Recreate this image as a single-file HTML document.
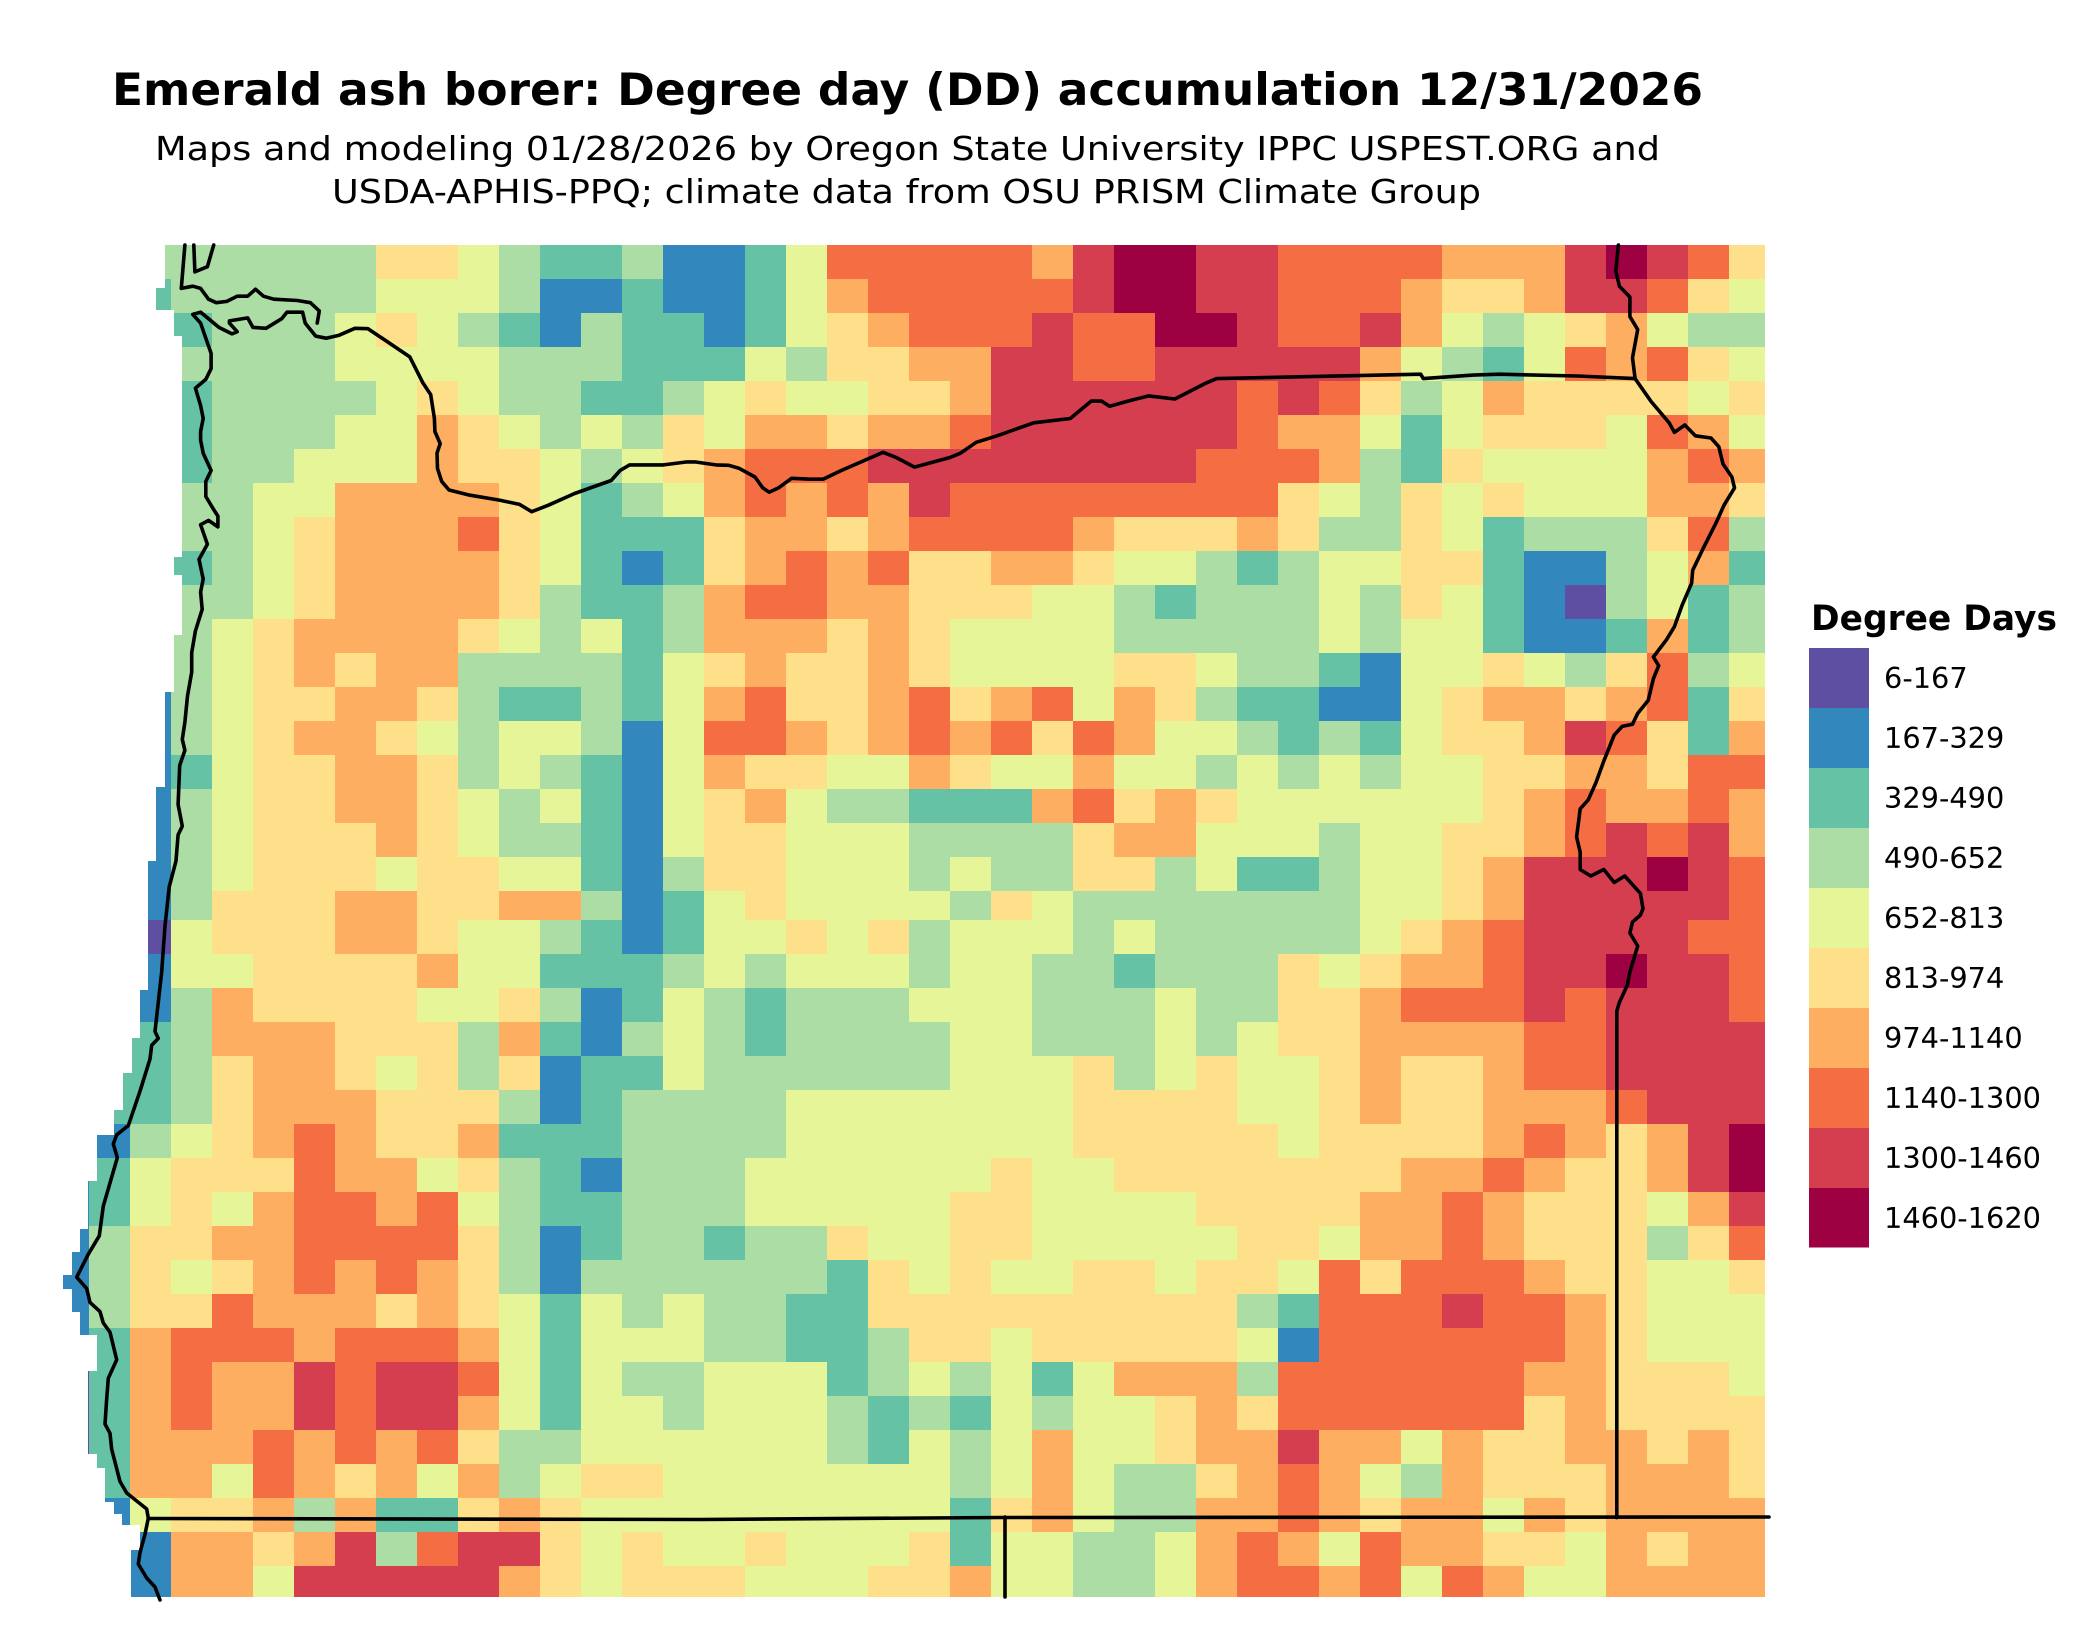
<!DOCTYPE html>
<html><head><meta charset="utf-8">
<style>
html,body{margin:0;padding:0;background:#fff;}
svg{display:block;}
text{font-family:"DejaVu Sans","Liberation Sans",sans-serif;fill:#000;}
</style></head>
<body>
<svg id="s" width="2100" height="1645" viewBox="0 0 2100 1645" xmlns="http://www.w3.org/2000/svg">
<defs><clipPath id="mc"><rect x="48" y="245" width="1717" height="1352"/></clipPath></defs>
<rect x="0" y="0" width="2100" height="1645" fill="#fff"/>
<g clip-path="url(#mc)" shape-rendering="crispEdges">
<rect x="130" y="245" width="1640" height="1360" fill="#e6f598"/>
<g id="grid"></g>
</g>
<path fill="#fff" d="M0,245 L165,245 L165,288 L156,288 L156,310 L174,310 L174,336 L182,336 L182,557 L174,557 L174,575 L182,575 L182,635 L174,635 L174,692 L165,692 L165,787 L156,787 L156,861 L148,861 L148,990 L140,990 L140,1038 L132,1038 L132,1073 L123,1073 L123,1110 L114,1110 L114,1135 L97,1135 L97,1181 L88,1181 L88,1229 L80,1229 L80,1252 L72,1252 L72,1275 L63,1275 L63,1289 L72,1289 L72,1312 L80,1312 L80,1335 L97,1335 L97,1371 L88,1371 L88,1454 L97,1454 L97,1468 L105,1468 L105,1502 L114,1502 L114,1514 L122,1514 L122,1525 L140,1525 L140,1550 L131,1550 L131,1645 L0,1645 Z"/>
<g fill="none" stroke="#000" stroke-width="3.6" stroke-linejoin="round" stroke-linecap="round">
<path d="M160,1600 L155,1587 L146.7,1578 L138.3,1564 L140,1552.6 L145,1534.3 L148.3,1518.2 L146.7,1509 L126.7,1493 L120,1481.5 L111.7,1449.3 L110,1433.3 L105,1424 L106.7,1398.8 L108.3,1378.2 L116.7,1359.8 L110,1332.2 L103.3,1323 L100,1311.6 L90,1302.4 L86.7,1288.6 L76.7,1277.2 L88.3,1254.2 L99.3,1235.8 L103.3,1206 L110,1183 L117.3,1157.8 L113.3,1144 L116.7,1134.8 L128.3,1125.6 L140,1091.2 L150,1059 L151.7,1045.3 L158.3,1038.4 L155,1031.5 L161.7,971.8 L165,926 L169.2,886.9 L176,860.9 L178.1,834.8 L182.3,826.2 L178.1,804.5 L179.7,765.4 L184.9,750.3 L182.3,739.4 L184.9,722.1 L187.5,696 L191.7,672.2 L191.7,652.7 L195.4,631 L202.2,609.3 L200.6,592 L203.2,579 L199,559.4 L207.4,544.3 L200.6,524.7 L208.5,520.4 L217.9,526.9 L217.9,516.1 L213.7,509.6 L205.8,496.5 L205.8,481.4 L211.1,470.5 L203.2,453.2 L200.6,440.2 L200.6,431.5 L203.2,418.5 L200.6,405.5 L195.4,388.1 L205.8,379.4 L211.1,368.6 L211.1,353.4 L205.8,338.2 L200.6,323.1 L192.8,314.4 L200.6,312.2 L208.5,318.7 L218.9,327.4 L232,333.9 L237.2,331.7 L229.4,323.1 L229.4,320.9 L247.7,317.9 L252.9,327.4 L266,328.3 L281.7,318.7 L286.9,312.2 L302.6,312.2 L305.2,323.1 L315.7,336.1 L326.1,338.2 L339.2,335.2 L354.9,328.3 L368,328.7 L409.8,356.9 L422.9,382.9 L430.7,394.6 L434.4,418.5 L434.9,431.5 L440.2,443.6 L437,453.2 L437.5,468.4 L441.7,481.4 L449,490 L470,495.2 L498.7,500 L519.6,504.4 L531.7,511.7 L548.4,505.2 L574.6,493.5 L611.2,480.5 L620.1,470.5 L629.5,464.9 L663.5,464.9 L687,461.9 L694.8,461.9 L715.8,464.9 L728.8,465.3 L739.3,468.4 L755,477 L762.8,487.9 L769.1,492.2 L778.5,487.9 L791.6,478.3 L809.9,479.2 L823,479.2 L841.3,470.5 L883.1,452.3 L896.2,457.5 L914.5,467.1 L950,457.5 L960.5,453.2 L976.2,442.3 L997.1,435.8 L1033.7,422.8 L1070.3,418.5 L1091.2,401.1 L1101.7,401.1 L1109.5,406.3 L1127.8,401.1 L1148.7,395.9 L1174.9,399 L1206.3,382.9 L1216.7,378.6 L1420.7,374.2 L1423.3,378.6 L1473,375.1 L1499.2,374.2 L1577.6,376 L1635.1,378.6 L1650.8,401.1 L1669.1,422.8 L1674.4,432.4 L1684.8,425 L1695.3,435.8 L1711,438 L1718.8,446.7 L1723,464 L1731.9,477 L1734.5,487.9 L1724,505.2 L1716.2,522.6 L1703.1,548.6 L1692.7,570.3 L1691.6,583.3 L1682.2,605 L1674.4,626.7 L1666.5,639.7 L1653.4,657 L1658.7,665.7 L1653.4,678.7 L1648.2,700.4 L1637.7,713.4 L1632.5,724.2 L1622.1,726.4 L1614.2,735.1 L1603.8,761.1 L1595.9,782.8 L1588.1,800.1 L1580.2,808.8 L1576.6,837 L1580.2,852.2 L1580.2,869.5 L1590.7,876 L1603.8,869.5 L1614.2,882.5 L1624.7,876 L1640.4,893.4 L1643,908.6 L1640.4,915.1 L1632.5,922 L1629.9,933 L1637.7,946 L1629.9,972 L1627.3,985.1 L1619.4,1002.4 L1616.8,1011.1 L1616.8,1517.6"/>
<path d="M1635.1,378.6 L1632.5,357.8 L1637.7,329.6 L1629.9,316.6 L1629.9,297 L1619.4,286.2 L1615.8,271 L1618.4,245"/>
<path d="M148.3,1518.5 L700,1519.5 L1000,1517.5 L1769,1517"/>
<path d="M1005,1517 L1005,1597"/>
<path d="M184.9,245 L181.3,288.4 L192.8,286.2 L200.6,288.4 L208.5,299.2 L216.3,302.7 L226.8,301.4 L237.2,296.2 L247.7,296.2 L255.5,289.2 L263.4,296.2 L273.8,299.2 L297.4,300.5 L310.4,302.7 L319.3,310.9 L317.2,323.1"/>
<path d="M193.8,245 L194.9,271.9 L207.4,266.7 L213.7,245"/>
</g>
<text x="112" y="105" font-size="44.4" font-weight="bold" textLength="1591" lengthAdjust="spacingAndGlyphs">Emerald ash borer: Degree day (DD) accumulation 12/31/2026</text>
<text x="155" y="160" font-size="33.3" textLength="1505" lengthAdjust="spacingAndGlyphs">Maps and modeling 01/28/2026 by Oregon State University IPPC USPEST.ORG and</text>
<text x="332" y="203" font-size="33.3" textLength="1149" lengthAdjust="spacingAndGlyphs">USDA-APHIS-PPQ; climate data from OSU PRISM Climate Group</text>
<text x="1811" y="630" font-size="34.3" font-weight="bold" textLength="246" lengthAdjust="spacingAndGlyphs">Degree Days</text>
<g shape-rendering="crispEdges">
<rect x="1809" y="648" width="60" height="60.5" fill="#5e4fa2"/>
<rect x="1809" y="708" width="60" height="60.5" fill="#3288bd"/>
<rect x="1809" y="768" width="60" height="60.5" fill="#66c2a5"/>
<rect x="1809" y="828" width="60" height="60.5" fill="#abdda4"/>
<rect x="1809" y="888" width="60" height="60.5" fill="#e6f598"/>
<rect x="1809" y="948" width="60" height="60.5" fill="#fee08b"/>
<rect x="1809" y="1008" width="60" height="60.5" fill="#fdae61"/>
<rect x="1809" y="1068" width="60" height="60.5" fill="#f46d43"/>
<rect x="1809" y="1128" width="60" height="60.5" fill="#d53e4f"/>
<rect x="1809" y="1188" width="60" height="59.5" fill="#9e0142"/>
</g>
<g font-size="28.8">
<text x="1884" y="688">6-167</text>
<text x="1884" y="748">167-329</text>
<text x="1884" y="808">329-490</text>
<text x="1884" y="868">490-652</text>
<text x="1884" y="928">652-813</text>
<text x="1884" y="988">813-974</text>
<text x="1884" y="1048">974-1140</text>
<text x="1884" y="1108">1140-1300</text>
<text x="1884" y="1168">1300-1460</text>
<text x="1884" y="1228">1460-1620</text>
</g>
</svg>
<script>
(function(){
var C={P:'#5e4fa2',B:'#3288bd',T:'#66c2a5',G:'#abdda4',Y:'#e6f598',L:'#fee08b',O:'#fdae61',R:'#f46d43',M:'#d53e4f',D:'#9e0142'};
var R=[
"GGGGGGLLYGTTGBBTYRRR"+"RROMDDMMRRRROOOMDMRL",
"TGGGGGYYYGBBTBBTYORR"+"RRRMDDMMRRROLLOMMRLY",
"TTGGGYLYGTBGTTBTYLOR"+"RRMRRDDMRRMOYGYLOYGG",
"TGGGGYYYYGGGTTTYGLLO"+"OMMRRMMMMMOYGTYRORLY",
"TTGGGGYLYGGTTGYLYYLL"+"OMMMMMMRMRLGYOLLLLYL",
"TTGGGYYOLYGYGLYOOLOO"+"RMMMMMMROOYTYLLLYROY",
"TTGGYYYOLLYGYLORRRMM"+"MMMMMMRRROGTLYYYYORO",
"BGGYYOOOOLYTGYOROROM"+"RRRRRRRRLYGLYLYYYOOL",
"BGGYLOOORLYTTTLOOLOR"+"RRROLLLOLGGLYTGGGLRG",
"BTGYLOOOOLYTBTLORORL"+"LOOLYYGTGYYLLTBBGYOT",
"BGGYLOOOOLGTTGORROOL"+"LLYYGTGGGYGLYTBPGYTG",
"BGYLOOOOLYGYTGOOOLOL"+"YYYYGGGGGYGYYTBBTOTG",
"BGYLOLOOGGGGTYLOLLOL"+"YYYYLLYGGTBYYLYGLRGY",
"BGYLLOOLGTTGTYORLLOR"+"LORYOLGTTBBYLOOLORTL",
"BGYLOOLYGYYGBYRROLOR"+"ORLROYYGTGTYLLOMRLTO",
"BTYLLOOLGYGTBYOLLYYO"+"LYYOYYGYGYGYYLLOOLRR",
"BGYLLOOLYGYTBYLOYGGT"+"TTORLOLYYYYYYLOROORO",
"BGYLLLOLYGGTBYLLYYYG"+"GGGLOOYYYGYYLLORMRMO",
"BGYLLLYLLYYTBGLLYYYG"+"YGGLLGYTTGYYLOMMMDMR",
"BGLLLOOLLOOGBTYLYYYY"+"GLYGGGGGGGYYLOMMMMMR",
"PYLLLOOLYYGTBTYYLYLG"+"YYYGYGGGGGYLORMMMMRR",
"BYYLLLLOYYTTTGYGYYYG"+"YYGGTGGGLYLOORMMDMMR",
"BGOLLLLYYLGBTYGTGGGY"+"YYGGGYGGLLORRRMRMMMR",
"TGOOOLLLGOTBGYGTGGGG"+"YYGGGYGYLLOOOORRMMMM",
"TGLOOLYLGLBTTYGGGGGG"+"YYYLGYLYYLOLLORRMMMM",
"TGLOOOLLLGBTGGGGYYYY"+"YYYLLLLYYLOLLOOORMMM",
"GYLOROLLOTTTGGGGYYYY"+"YYYLLLLLYLLLLOROLOMD",
"YLLLROOYLGTBGGGYYYYY"+"YLYYLLLLLLLOOROLLOMD",
"YLYORRORYGTTGGGYYYYY"+"LLYYYYLLLLOOROLLLYOM",
"LLOORRRRLGBTGGTGGLYY"+"LLYYYYYLLYOOROLLLGLR",
"LYLOROROLGBGGGGGGTLY"+"LYYLLYLLYRLRRROLLYYL",
"LLROOOLOLYTYGYGGTTLL"+"LLLLLLLGTRRRMRROLYYY",
"ORRRORRROYTYYYGGTTGL"+"LYLLLLLYBRRRRRROLYYY",
"OROOMRMMRYTYGGYYYTGY"+"GYTYOOOGRRRRRROOLLLY",
"OROOMRMMOYTYYGYYYGTG"+"TYGYYLOLRRRRRRLOLLLL",
"OOORORORLGGYYYYYYGTY"+"GYOYYLOOMOOYOLLOOLOL",
"OOYROLOYOGYLLYYYYYYY"+"GYOYGGLOROYGOLLLOOOL",
"YLLOGOTTLOLYYYYYYYYY"+"TLOYGGOOROLOOYOLOOOO",
"BOOLOMGRMMLYLYYLYYYL"+"TYYGGYOROYROOLLYOLOO",
"BOOYMMMMMOLYLLLYYYLL"+"OYYGGYORRORYROYYOOOO"];
var LF=["BB","BB","BB","BB","BT","BT","BB","BT","BT","BG","BG","BG","BT","PT","PT","PT","PT","PB","BB","BB"];
var g=document.getElementById('grid'),ns='http://www.w3.org/2000/svg';
function add(x,y,w,h,c){if(!C[c])return;var e=document.createElementNS(ns,'rect');e.setAttribute('x',x);e.setAttribute('y',y);e.setAttribute('width',w);e.setAttribute('height',h);e.setAttribute('fill',C[c]);g.appendChild(e);}
for(var r=0;r<40;r++){
 var y=r<20?245+34*r:920+34*(r-20);
 var s=(r>=20?LF[r-20]:'')+R[r];
 var x0=r>=20?48:130;
 var i=0;
 while(i<s.length){var j=i;while(j+1<s.length&&s[j+1]===s[i])j++;add(x0+41*i,y,41*(j-i+1),35,s[i]);i=j+1;}
}
})();
</script>
</body></html>
